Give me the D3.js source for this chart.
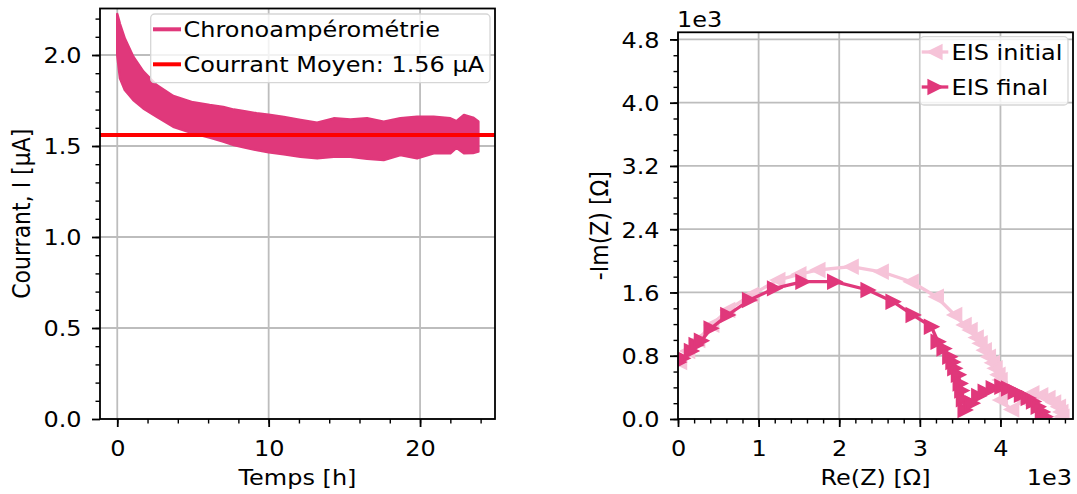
<!DOCTYPE html>
<html><head><meta charset="utf-8">
<script src="https://cdn.jsdelivr.net/npm/d3@7"></script>
<style>
html,body{margin:0;padding:0;background:#fff;}
svg{display:block;font-family:"DejaVu Sans",sans-serif;}
</style></head><body>
<svg id="chart" width="1077" height="494"></svg>
<script>
// ---------------- data ----------------
const chronoTime  = [0, 0.18, 0.5, 1.06, 1.72, 2.6, 3.7, 5.0, 6.1, 7.0, 7.7, 8.5, 9.2, 10.0, 11.0, 12.1, 13.2, 14.3, 15.4, 16.5, 17.6, 18.7, 19.8, 20.9, 22.0, 22.4, 22.9, 23.5, 23.85];
const chronoUpper = [2.225, 2.17, 2.09, 1.99, 1.91, 1.835, 1.775, 1.74, 1.725, 1.715, 1.70, 1.69, 1.68, 1.672, 1.66, 1.643, 1.628, 1.652, 1.645, 1.652, 1.634, 1.652, 1.661, 1.661, 1.652, 1.636, 1.67, 1.656, 1.634];
const chronoLower = [2.0, 1.872, 1.808, 1.753, 1.707, 1.661, 1.606, 1.57, 1.546, 1.525, 1.505, 1.49, 1.478, 1.466, 1.454, 1.441, 1.432, 1.441, 1.441, 1.43, 1.423, 1.45, 1.432, 1.46, 1.46, 1.49, 1.46, 1.462, 1.469];
const meanCurrent = 1.56;

// EIS, in kΩ (axis shows ×1e3)
const eisInitialRe = [0.02, 0.12, 0.245, 0.42, 0.617, 0.907, 1.239, 1.50, 1.736, 2.149, 2.522, 2.894, 3.205, 3.433, 3.55, 3.624, 3.70, 3.748, 3.80, 3.851, 3.90, 3.934, 3.97, 3.996, 4.0, 4.0, 4.14, 4.28, 4.39, 4.50, 4.59, 4.66, 4.72, 4.75, 4.763];
const eisInitialIm = [0.72, 0.86, 1.0, 1.19, 1.378, 1.568, 1.757, 1.83, 1.884, 1.926, 1.862, 1.736, 1.546, 1.315, 1.19, 1.125, 1.03, 0.957, 0.87, 0.788, 0.71, 0.641, 0.56, 0.493, 0.38, 0.24, 0.12, 0.24, 0.325, 0.30, 0.265, 0.21, 0.156, 0.09, 0.03];
const eisFinalRe = [0.01, 0.058, 0.166, 0.224, 0.29, 0.41, 0.617, 0.887, 1.197, 1.549, 1.943, 2.357, 2.667, 2.916, 3.143, 3.226, 3.30, 3.371, 3.41, 3.433, 3.478, 3.50, 3.52, 3.54, 3.561, 3.65, 3.73, 3.81, 3.91, 4.017, 4.10, 4.183, 4.26, 4.344, 4.41, 4.468, 4.52, 4.555];
const eisFinalIm = [0.72, 0.767, 0.86, 0.936, 0.99, 1.146, 1.315, 1.504, 1.652, 1.736, 1.736, 1.631, 1.483, 1.315, 1.167, 0.977, 0.89, 0.788, 0.72, 0.641, 0.56, 0.45, 0.36, 0.25, 0.114, 0.2, 0.29, 0.345, 0.39, 0.408, 0.385, 0.345, 0.305, 0.265, 0.22, 0.155, 0.09, 0.029];

const leftXTicks  = [0, 10, 20];
const leftYTicks  = [0, 0.5, 1.0, 1.5, 2.0];
const rightXTicks = [0, 1, 2, 3, 4];
const rightYTicks = [0, 0.8, 1.6, 2.4, 3.2, 4.0, 4.8];

const labels = {
  chronoLegend: "Chronoampérométrie",
  meanLegend: "Courrant Moyen: 1.56 µA",
  leftX: "Temps [h]",
  leftY: "Courrant, I [µA]",
  rightX: "Re(Z) [Ω]",
  rightY: "-Im(Z) [Ω]",
  offset: "1e3",
  eisInitial: "EIS initial",
  eisFinal: "EIS final"
};

// ---------------- style ----------------
const C_DARK = "#e0387b", C_LIGHT = "#f6c3d8", C_RED = "#ff0000";
const GRID = "#bdbdbd";
const FS = 22, SX = 1.09;

const svg = d3.select("#chart");

function stretch(sel) {
  sel.each(function () {
    const t = d3.select(this);
    const x = +t.attr("x") || 0, y = +t.attr("y") || 0;
    t.attr("transform", `translate(${x},${y}) scale(${SX},1) translate(${-x},${-y})`);
  });
}

function range(a, b, s) { const r = []; for (let v = a; v <= b + 1e-9; v += s) r.push(+v.toFixed(6)); return r; }

function drawGrid(g, x, y, xTicks, yTicks, box) {
  g.append("g").selectAll("line").data(xTicks).join("line")
    .attr("x1", d => x(d)).attr("x2", d => x(d)).attr("y1", box.top).attr("y2", box.bottom)
    .attr("stroke", GRID).attr("stroke-width", 1.8);
  g.append("g").selectAll("line").data(yTicks).join("line")
    .attr("y1", d => y(d)).attr("y2", d => y(d)).attr("x1", box.left).attr("x2", box.right)
    .attr("stroke", GRID).attr("stroke-width", 1.8);
}

function drawAxisFrame(g, x, y, xTicks, yTicks, xMinor, yMinor, fmtX, fmtY, box) {
  const ax = g.append("g").attr("transform", `translate(0,${box.bottom})`)
    .call(d3.axisBottom(x).tickValues(xTicks).tickFormat(fmtX).tickSize(8).tickPadding(0));
  const axm = g.append("g").attr("transform", `translate(0,${box.bottom})`)
    .call(d3.axisBottom(x).tickValues(xMinor).tickFormat("").tickSize(4.5));
  const ay = g.append("g").attr("transform", `translate(${box.left},0)`)
    .call(d3.axisLeft(y).tickValues(yTicks).tickFormat(fmtY).tickSize(8).tickPadding(0));
  const aym = g.append("g").attr("transform", `translate(${box.left},0)`)
    .call(d3.axisLeft(y).tickValues(yMinor).tickFormat("").tickSize(4.5));
  [ax, axm, ay, aym].forEach(a => { a.select(".domain").remove(); a.selectAll("line").attr("stroke", "#000"); });
  ax.selectAll("line").attr("stroke-width", 1.8);
  ay.selectAll("line").attr("stroke-width", 1.8);
  axm.selectAll("line").attr("stroke-width", 1.4);
  aym.selectAll("line").attr("stroke-width", 1.4);
  ax.selectAll("text").attr("y", 37).attr("dy", 0).attr("font-size", FS).attr("font-family", "DejaVu Sans").attr("fill", "#000");
  ay.selectAll("text").attr("x", -18.5).attr("dy", "0.36em").attr("font-size", FS).attr("font-family", "DejaVu Sans").attr("fill", "#000");
  stretch(ax.selectAll("text")); stretch(ay.selectAll("text"));
  g.append("rect").attr("x", box.left).attr("y", box.top).attr("width", box.right - box.left).attr("height", box.bottom - box.top)
    .attr("fill", "none").attr("stroke", "#000").attr("stroke-width", 1.8);
}

function legendBox(g, x0, y0, x1, y1) {
  g.append("rect").attr("x", x0).attr("y", y0).attr("width", x1 - x0).attr("height", y1 - y0)
    .attr("rx", 4).attr("fill", "#fff").attr("fill-opacity", 0.8).attr("stroke", "#d6d6d6").attr("stroke-width", 1.3);
}

function addText(g, x, y, txt, anchor) {
  const t = g.append("text").attr("x", x).attr("y", y).attr("font-size", FS).attr("fill", "#000")
    .attr("text-anchor", anchor || "start").text(txt);
  stretch(t);
  return t;
}

function addRotText(g, x, y, txt) {
  g.append("text").attr("transform", `translate(${x},${y}) rotate(-90) scale(1,${SX})`)
    .attr("text-anchor", "middle").attr("font-size", FS).attr("fill", "#000").text(txt);
}

// ---------------- left panel ----------------
const L = { left: 100, right: 495, top: 8.5, bottom: 419 };
const xL = d3.scaleLinear().domain([-1.14, 24.95]).range([L.left, L.right]);
const yL = d3.scaleLinear().domain([0, 2.2555]).range([L.bottom, L.top]);
const gL = svg.append("g");
svg.append("clipPath").attr("id", "clipL").append("rect")
  .attr("x", L.left).attr("y", L.top).attr("width", L.right - L.left).attr("height", L.bottom - L.top);

drawGrid(gL, xL, yL, leftXTicks, leftYTicks, L);

const chronoData = chronoTime.map((t, i) => ({ t, hi: chronoUpper[i], lo: chronoLower[i] }));
const dL = gL.append("g").attr("clip-path", "url(#clipL)");
dL.append("path").datum(chronoData)
  .attr("d", d3.area().x(d => xL(d.t)).y0(d => yL(d.lo)).y1(d => yL(d.hi)))
  .attr("fill", C_DARK).attr("stroke", C_DARK).attr("stroke-width", 2.5).attr("stroke-linejoin", "round");
dL.append("line").attr("x1", L.left).attr("x2", L.right).attr("y1", yL(meanCurrent)).attr("y2", yL(meanCurrent))
  .attr("stroke", C_RED).attr("stroke-width", 4);

drawAxisFrame(gL, xL, yL, leftXTicks, leftYTicks, range(0, 24, 2), range(0.1, 2.2, 0.1),
  d => d3.format("d")(d), d => d3.format(".1f")(d), L);

addText(gL, (L.left + L.right) / 2, 485, labels.leftX, "middle");
addRotText(gL, 30, (L.top + L.bottom) / 2, labels.leftY);

legendBox(gL, 150.7, 14, 490, 82.7);
gL.append("line").attr("x1", 153).attr("x2", 181).attr("y1", 29.3).attr("y2", 29.3).attr("stroke", C_DARK).attr("stroke-width", 4);
gL.append("line").attr("x1", 153).attr("x2", 181).attr("y1", 64.3).attr("y2", 64.3).attr("stroke", C_RED).attr("stroke-width", 4);
addText(gL, 183.5, 37.3, labels.chronoLegend);
addText(gL, 183.5, 72.5, labels.meanLegend);

// ---------------- right panel ----------------
const R = { left: 678, right: 1073, top: 32.3, bottom: 419 };
const xR = d3.scaleLinear().domain([0, 4.9]).range([R.left, R.right]);
const yR = d3.scaleLinear().domain([0, 4.89]).range([R.bottom, R.top]);
const gR = svg.append("g");
svg.append("clipPath").attr("id", "clipR").append("rect")
  .attr("x", R.left).attr("y", R.top).attr("width", R.right - R.left).attr("height", R.bottom - R.top);

drawGrid(gR, xR, yR, rightXTicks, rightYTicks, R);

const MS = 13.2;
const triRight = `M${MS/2},0L${-MS/2},${-MS/2}L${-MS/2},${MS/2}Z`;
const triLeft  = `M${-MS/2},0L${MS/2},${-MS/2}L${MS/2},${MS/2}Z`;

function drawEIS(g, re, im, color, marker) {
  const pts = re.map((r, i) => [r, im[i]]);
  g.append("path").datum(pts).attr("d", d3.line().x(d => xR(d[0])).y(d => yR(d[1])))
    .attr("fill", "none").attr("stroke", color).attr("stroke-width", 3.3).attr("stroke-linejoin", "round");
  g.append("g").selectAll("path").data(pts).join("path")
    .attr("d", marker).attr("transform", d => `translate(${xR(d[0])},${yR(d[1])})`)
    .attr("fill", color).attr("stroke", color).attr("stroke-width", 2);
}
const dR = gR.append("g").attr("clip-path", "url(#clipR)");
drawEIS(dR, eisInitialRe, eisInitialIm, C_LIGHT, triLeft);
drawEIS(dR, eisFinalRe, eisFinalIm, C_DARK, triRight);

drawAxisFrame(gR, xR, yR, rightXTicks, rightYTicks, range(0, 4.8, 0.2), range(0, 4.8, 0.2),
  d => d3.format("d")(d), d => d3.format(".1f")(d), R);

addText(gR, (R.left + R.right) / 2, 485, labels.rightX, "middle");
addText(gR, 1072, 485, labels.offset, "end");
addText(gR, 677, 27.3, labels.offset, "start");
addRotText(gR, 608, (R.top + R.bottom) / 2, labels.rightY);

legendBox(gR, 920, 36.7, 1068, 105);
[[C_LIGHT, triLeft, 52, labels.eisInitial], [C_DARK, triRight, 87, labels.eisFinal]].forEach(([c, m, yy, txt]) => {
  gR.append("line").attr("x1", 921.7).attr("x2", 948.3).attr("y1", yy).attr("y2", yy).attr("stroke", c).attr("stroke-width", 3.3);
  gR.append("path").attr("d", m).attr("transform", `translate(935,${yy})`).attr("fill", c).attr("stroke", c).attr("stroke-width", 2);
  addText(gR, 951.5, yy + 8, txt);
});
</script>
</body></html>
